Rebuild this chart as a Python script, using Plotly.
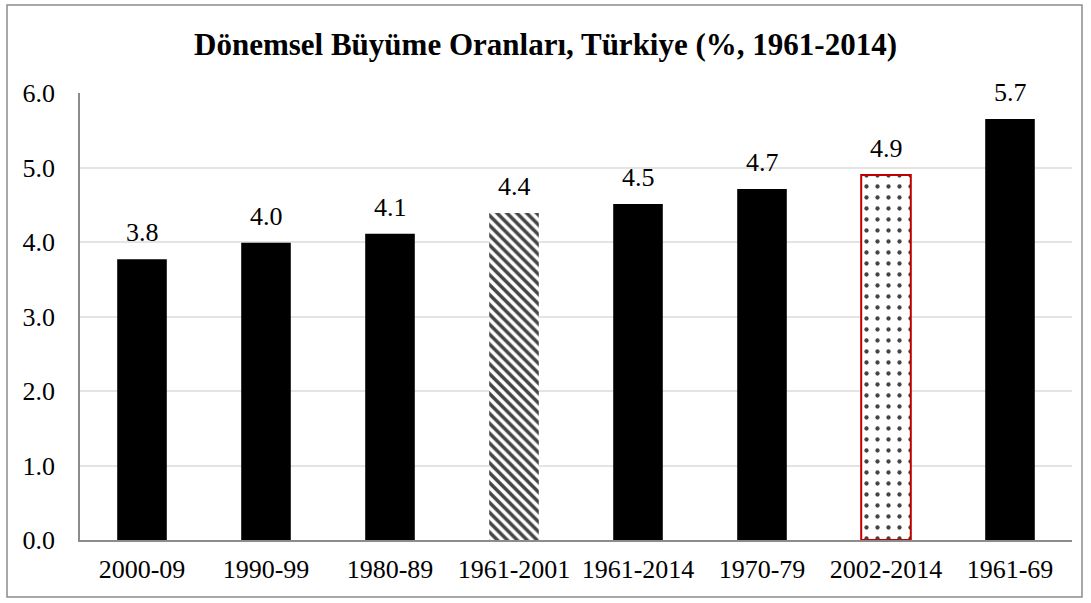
import plotly.graph_objects as go

categories = ["2000-09", "1990-99", "1980-89", "1961-2001", "1961-2014", "1970-79", "2002-2014", "1961-69"]
values = [3.77, 3.99, 4.11, 4.39, 4.51, 4.71, 4.90, 5.65]
labels = ["3.8", "4.0", "4.1", "4.4", "4.5", "4.7", "4.9", "5.7"]
patterns = ["", "", "", "\\", "", "", ".", ""]
fill_colors = ["black", "black", "black", "white", "black", "black", "white", "black"]
line_colors = ["black", "black", "black", "black", "black", "black", "#c00000", "black"]
line_widths = [0, 0, 0, 0, 0, 0, 2, 0]
pattern_sizes = [8, 8, 8, 7, 8, 8, 11, 8]
pattern_solidity = [0.3, 0.3, 0.3, 0.5, 0.3, 0.3, 0.12, 0.3]
y_ticks = [0, 1, 2, 3, 4, 5, 6]
y_tick_labels = ["0.0", "1.0", "2.0", "3.0", "4.0", "5.0", "6.0"]

font_family = "Liberation Serif, Times New Roman, serif"

PL, PR, PT, PB = 80, 1072, 93, 540
W, H = 1091, 603
pw, ph = PR - PL, PB - PT

fig = go.Figure(go.Bar(
    x=categories,
    y=values,
    width=0.4,
    marker=dict(
        color=fill_colors,
        line=dict(color=line_colors, width=line_widths),
        pattern=dict(shape=patterns, fgcolor="black", bgcolor="white", fgopacity=1,
                     size=pattern_sizes, solidity=pattern_solidity, fillmode="overlay"),
    ),
))

for c, v, t in zip(categories, values, labels):
    fig.add_annotation(x=c, y=v, text=t, showarrow=False, xanchor="center",
                       yanchor="bottom", yshift=10,
                       font=dict(size=26, color="black", family=font_family))

fig.update_layout(
    width=W, height=H,
    margin=dict(l=PL, r=W - PR, t=PT, b=H - PB, autoexpand=False),
    paper_bgcolor="white", plot_bgcolor="white",
    showlegend=False,
    font=dict(family=font_family, size=26, color="black"),
    title=dict(text="<b>Dönemsel Büyüme Oranları, Türkiye (%, 1961-2014)</b>",
               x=0.5, xref="container", xanchor="center",
               y=1 - 44 / H, yref="container", yanchor="middle",
               font=dict(size=31, family=font_family, color="black")),
    xaxis=dict(type="category", showline=True, linecolor="#8c8c8c", linewidth=1.5,
               ticks="", tickfont=dict(size=26), showgrid=False,
               ticklabelstandoff=5),
    yaxis=dict(range=[0, 6], tickvals=y_ticks, ticktext=y_tick_labels,
               showline=True, linecolor="#8c8c8c", linewidth=1.5,
               showgrid=True, gridcolor="#e4e4e4", gridwidth=1.5,
               zeroline=False, ticks="", ticklabelstandoff=18,
               tickfont=dict(size=26)),
    shapes=[dict(type="rect", xref="paper", yref="paper",
                 x0=(7 - PL) / pw, x1=(1082 - PL) / pw,
                 y0=(PB - 597) / ph, y1=(PB - 5) / ph,
                 line=dict(color="#8c8c8c", width=1.5), fillcolor="rgba(0,0,0,0)",
                 layer="below")],
)

fig.write_html("out.html", config={"displayModeBar": False},
               post_script="document.body.style.margin='0';")
